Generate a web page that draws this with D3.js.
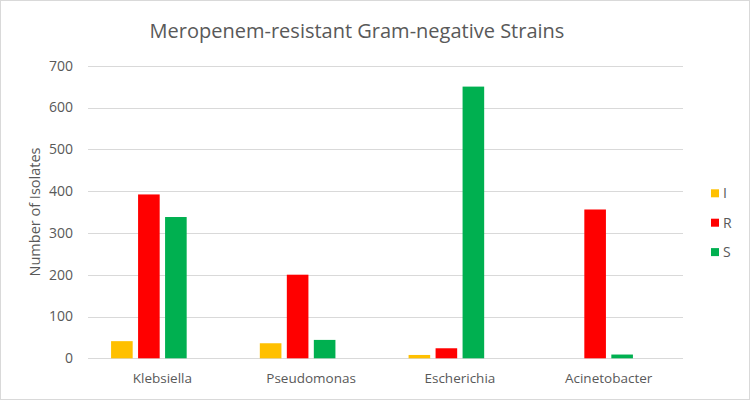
<!DOCTYPE html>
<html>
<head>
<meta charset="utf-8">
<script src="https://cdn.jsdelivr.net/npm/d3@7"></script>
<style>
  body { margin: 0; background: #fff; }
  text { font-family: "Open Sans", "Liberation Sans", sans-serif; fill: #595959; }
</style>
</head>
<body>
<svg id="chart" width="750" height="400"></svg>
<script>
// data
const genera = ['Klebsiella', 'Pseudomonas', 'Escherichia', 'Acinetobacter'];
const seriesNames = ['I', 'R', 'S'];
const valuesI = [41, 36, 8, 0];
const valuesR = [392, 200, 24, 356];
const valuesS = [338, 44, 650, 9];
const yTicks = [0, 100, 200, 300, 400, 500, 600, 700];
const colours = ['#ffc000', '#ff0000', '#00b050'];

const svg = d3.select('#chart');
const W = 750, H = 400;
const plotLeft = 88, plotRight = 683, plotTop = 65.7, plotBottom = 358.3;

// outer border of the chart area
svg.append('rect')
    .attr('x', 0.5).attr('y', 0.5)
    .attr('width', W - 1).attr('height', H - 1)
    .attr('fill', '#fff')
    .attr('stroke', '#d9d9d9');

const x0 = d3.scaleBand().domain(genera).range([plotLeft, plotRight]).padding(0);
// excel leaves room for a 4th (empty) series, so the bars sit left of centre
const groupW = 108;
const x1 = d3.scaleBand()
    .domain(seriesNames.concat(['blank']))
    .range([(x0.bandwidth() - groupW) / 2, (x0.bandwidth() + groupW) / 2])
    .paddingInner(0.2)
    .paddingOuter(0.1);
const y = d3.scaleLinear().domain([0, 700]).range([plotBottom, plotTop]);

// gridlines
svg.append('g')
    .selectAll('line')
    .data(yTicks)
    .join('line')
    .attr('x1', plotLeft).attr('x2', plotRight)
    .attr('y1', d => Math.round(y(d)) + 0.5)
    .attr('y2', d => Math.round(y(d)) + 0.5)
    .attr('stroke', '#d9d9d9')
    .attr('stroke-width', 1);

// y tick labels
svg.append('g')
    .selectAll('text')
    .data(yTicks)
    .join('text')
    .attr('x', 73)
    .attr('y', d => y(d))
    .attr('dy', '0.35em')
    .attr('text-anchor', 'end')
    .attr('font-size', 14)
    .text(d => d);

// bars
const rows = genera.map((g, i) => ({
    genus: g,
    vals: [valuesI[i], valuesR[i], valuesS[i]]
}));

const groups = svg.append('g')
    .selectAll('g')
    .data(rows)
    .join('g')
    .attr('transform', d => 'translate(' + x0(d.genus) + ',0)');

groups.selectAll('rect')
    .data(d => d.vals.map((v, k) => ({ key: seriesNames[k], value: v, colour: colours[k] })))
    .join('rect')
    .attr('x', d => x1(d.key))
    .attr('width', x1.bandwidth())
    .attr('y', d => y(d.value))
    .attr('height', d => y(0) - y(d.value))
    .attr('fill', d => d.colour);

// category labels
svg.append('g')
    .selectAll('text')
    .data(genera)
    .join('text')
    .attr('x', d => x0(d) + x0.bandwidth() / 2)
    .attr('y', 383)
    .attr('text-anchor', 'middle')
    .attr('font-size', 13.5)
    .text(d => d);

// title
svg.append('text')
    .attr('x', 357)
    .attr('y', 38)
    .attr('text-anchor', 'middle')
    .attr('font-size', 20)
    .text('Meropenem-resistant Gram-negative Strains');

// y axis title
svg.append('text')
    .attr('transform', 'translate(40,' + ((plotTop + plotBottom) / 2) + ') rotate(-90)')
    .attr('text-anchor', 'middle')
    .attr('font-size', 14.5)
    .text('Number of Isolates');

// legend
const legend = svg.append('g')
    .selectAll('g')
    .data(seriesNames)
    .join('g')
    .attr('transform', (d, i) => 'translate(711,' + (193.3 + i * 29.4) + ')');

legend.append('rect')
    .attr('x', 0).attr('y', -4)
    .attr('width', 8).attr('height', 8)
    .attr('fill', (d, i) => colours[i]);

legend.append('text')
    .attr('x', 12)
    .attr('y', 0)
    .attr('dy', '0.35em')
    .attr('font-size', 14)
    .text(d => d);
</script>
</body>
</html>
